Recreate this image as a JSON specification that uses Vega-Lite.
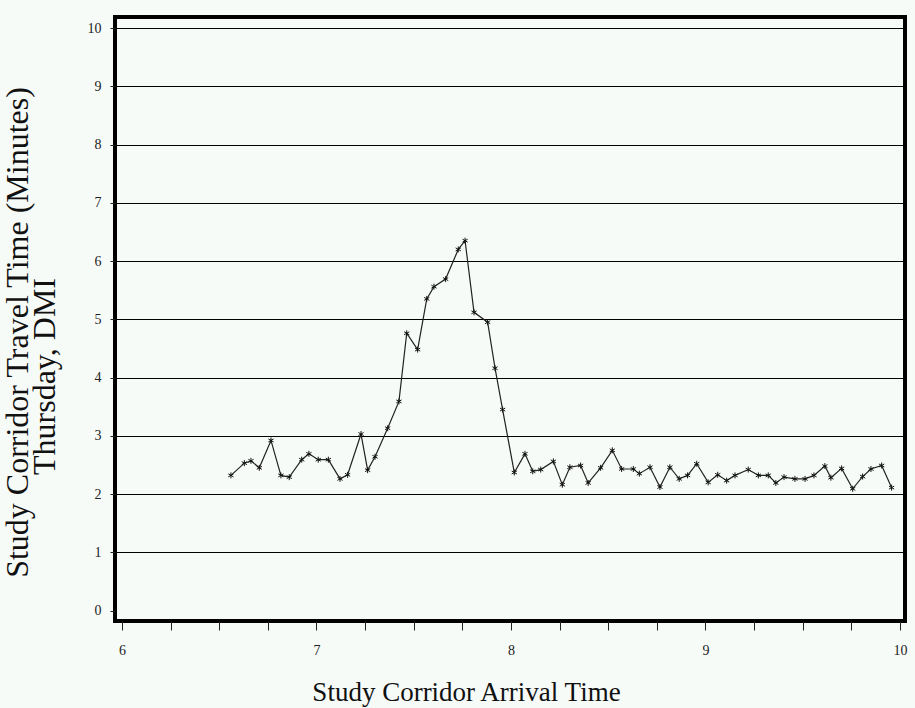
{
  "$schema": "https://vega.github.io/schema/vega-lite/v6.json",
  "width": 790,
  "height": 604,
  "autosize": {"type": "none"},
  "padding": {"left": 115, "top": 17, "right": 10, "bottom": 87},
  "background": "#f7fbf8",
  "config": {
    "view": {"stroke": "#000000", "strokeWidth": 4, "fill": "#f7fbf8"},
    "font": "Liberation Serif"
  },
  "data": {
    "values": [
      {"t": 6.560, "v": 2.32}, {"t": 6.629, "v": 2.53}, {"t": 6.663, "v": 2.57}, {"t": 6.706, "v": 2.45},
      {"t": 6.766, "v": 2.92}, {"t": 6.817, "v": 2.32}, {"t": 6.860, "v": 2.29}, {"t": 6.924, "v": 2.59},
      {"t": 6.961, "v": 2.69}, {"t": 7.009, "v": 2.59}, {"t": 7.061, "v": 2.59}, {"t": 7.121, "v": 2.26},
      {"t": 7.160, "v": 2.33}, {"t": 7.229, "v": 3.03}, {"t": 7.263, "v": 2.41}, {"t": 7.301, "v": 2.64},
      {"t": 7.366, "v": 3.13}, {"t": 7.424, "v": 3.59}, {"t": 7.464, "v": 4.76}, {"t": 7.520, "v": 4.48},
      {"t": 7.567, "v": 5.35}, {"t": 7.604, "v": 5.56}, {"t": 7.664, "v": 5.69}, {"t": 7.729, "v": 6.20},
      {"t": 7.764, "v": 6.35}, {"t": 7.810, "v": 5.12}, {"t": 7.880, "v": 4.95}, {"t": 7.918, "v": 4.16},
      {"t": 7.957, "v": 3.45}, {"t": 8.017, "v": 2.37}, {"t": 8.072, "v": 2.69}, {"t": 8.112, "v": 2.39},
      {"t": 8.153, "v": 2.42}, {"t": 8.218, "v": 2.56}, {"t": 8.264, "v": 2.16}, {"t": 8.303, "v": 2.46},
      {"t": 8.358, "v": 2.49}, {"t": 8.397, "v": 2.19}, {"t": 8.461, "v": 2.45}, {"t": 8.521, "v": 2.75},
      {"t": 8.569, "v": 2.43}, {"t": 8.629, "v": 2.43}, {"t": 8.660, "v": 2.35}, {"t": 8.715, "v": 2.46},
      {"t": 8.766, "v": 2.12}, {"t": 8.817, "v": 2.46}, {"t": 8.865, "v": 2.26}, {"t": 8.908, "v": 2.32},
      {"t": 8.955, "v": 2.52}, {"t": 9.014, "v": 2.20}, {"t": 9.063, "v": 2.33}, {"t": 9.109, "v": 2.23},
      {"t": 9.152, "v": 2.32}, {"t": 9.220, "v": 2.42}, {"t": 9.272, "v": 2.32}, {"t": 9.323, "v": 2.32},
      {"t": 9.362, "v": 2.19}, {"t": 9.404, "v": 2.29}, {"t": 9.460, "v": 2.26}, {"t": 9.512, "v": 2.26},
      {"t": 9.558, "v": 2.32}, {"t": 9.614, "v": 2.48}, {"t": 9.645, "v": 2.28}, {"t": 9.700, "v": 2.44},
      {"t": 9.757, "v": 2.09}, {"t": 9.808, "v": 2.30}, {"t": 9.851, "v": 2.43}, {"t": 9.906, "v": 2.49},
      {"t": 9.957, "v": 2.11}
    ]
  },
  "encoding": {
    "x": {
      "field": "t",
      "type": "quantitative",
      "scale": {"domain": [5.964, 10.026], "nice": false, "zero": false},
      "axis": {
        "title": "Study Corridor Arrival Time",
        "values": [6, 6.25, 6.5, 6.75, 7, 7.25, 7.5, 7.75, 8, 8.25, 8.5, 8.75, 9, 9.25, 9.5, 9.75, 10],
        "labelExpr": "datum.value % 1 == 0 ? format(datum.value, 'd') : ''",
        "grid": false,
        "domain": false,
        "tickColor": "#222222",
        "tickSize": 9,
        "tickWidth": 1,
        "labelPadding": 13,
        "labelFont": "Liberation Serif",
        "labelFontSize": 14,
        "labelColor": "#222222",
        "titleFont": "Liberation Serif",
        "titleFontSize": 27,
        "titleFontWeight": "normal",
        "titleColor": "#111111",
        "titleX": 351,
        "titlePadding": 22
      }
    },
    "y": {
      "field": "v",
      "type": "quantitative",
      "scale": {"domain": [-0.18, 10.19], "nice": false, "zero": false},
      "axis": {
        "title": ["Study Corridor Travel Time (Minutes)", "Thursday, DMI\u00a0\u00a0\u00a0\u00a0\u00a0\u00a0\u00a0\u00a0\u00a0\u00a0\u00a0\u200b"],
        "values": [0, 1, 2, 3, 4, 5, 6, 7, 8, 9, 10],
        "format": "d",
        "grid": true,
        "gridColor": "#000000",
        "gridWidth": 1,
        "gridOpacity": {"condition": {"test": "datum.value == 0", "value": 0}, "value": 1},
        "domain": false,
        "tickColor": "#222222",
        "tickSize": 5,
        "labelPadding": 9,
        "labelFont": "Liberation Serif",
        "labelFontSize": 14,
        "labelColor": "#222222",
        "titleFont": "Liberation Serif",
        "titleFontSize": 32,
        "titleFontWeight": "normal",
        "titleColor": "#111111",
        "titleLineHeight": 27,
        "titleY": 315,
        "titlePadding": 26
      }
    }
  },
  "layer": [
    {"mark": {"type": "line", "color": "#222222", "strokeWidth": 1.2}},
    {
      "mark": {
        "type": "point",
        "shape": "M0,-1L0,1M-0.87,-0.5L0.87,0.5M-0.87,0.5L0.87,-0.5",
        "filled": false,
        "stroke": "#111111",
        "strokeWidth": 1,
        "size": 36,
        "opacity": 1
      }
    }
  ]
}
